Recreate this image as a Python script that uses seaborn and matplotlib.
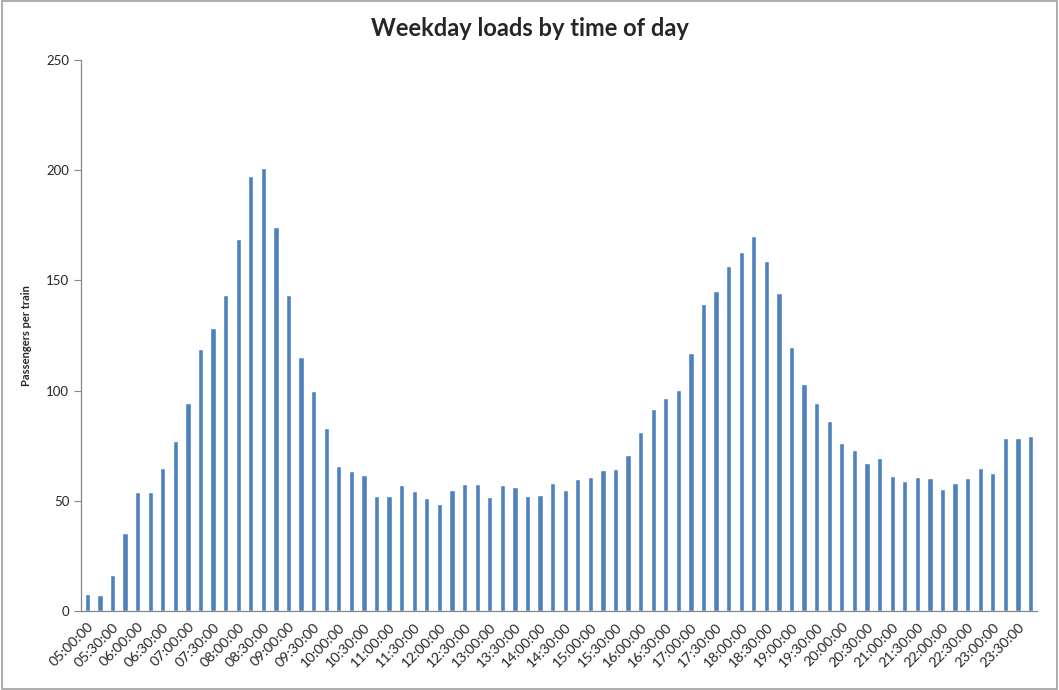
import pandas as pd
import matplotlib.pyplot as plt
import seaborn as sns
from matplotlib.patches import Rectangle

# 15-minute departure slots, 05:00 to 23:45
slots = pd.date_range("05:00", "23:45", freq="15min").strftime("%H:%M:%S").tolist()

# Passengers per train, one per slot
loads = [
    7.5, 7.1, 16.2, 35.5, 54.0, 54.0, 64.7, 77.3, 94.2, 118.7,
    128.2, 143.5, 168.8, 197.2, 201.2, 174.4, 143.5, 115.1, 99.7, 82.9,
    65.8, 63.4, 61.9, 52.0, 52.3, 57.0, 54.3, 51.1, 48.4, 55.1,
    57.5, 57.5, 51.6, 57.0, 56.3, 52.0, 52.6, 57.9, 55.1, 59.9,
    60.6, 64.1, 64.6, 70.6, 81.2, 91.5, 96.6, 100.3, 117.2, 139.1,
    145.0, 156.5, 162.9, 170.3, 159.0, 144.3, 119.8, 103.1, 94.5, 86.4,
    76.4, 73.2, 67.3, 69.3, 61.4, 59.0, 60.6, 60.2, 55.2, 57.9,
    60.2, 65.0, 62.8, 78.3, 78.3, 79.2,
]

df = pd.DataFrame({"slot": slots, "load": loads})

sns.set_style("white")
plt.rcParams["font.family"] = ["Lato", "DejaVu Sans"]

fig = plt.figure(figsize=(10.59, 6.9), dpi=100, facecolor="white")
ax = fig.add_axes([0.0765, 0.1145, 0.9025, 0.7985])

sns.barplot(data=df, x="slot", y="load", color="#4F81BD", width=0.42,
            saturation=1, ax=ax)

ax.set_xlim(-0.5, len(slots) - 0.5)
ax.set_ylim(0, 250)
ax.set_yticks(range(0, 251, 50))

# labels every 30 minutes, tick marks between every category
ax.set_xticks(range(0, len(slots), 2))
ax.set_xticklabels(slots[::2], rotation=45, ha="right", rotation_mode="anchor",
                   fontsize=10.3)
ax.set_xticks([i - 0.5 for i in range(len(slots) + 1)], minor=True)
ax.tick_params(axis="x", which="major", length=0, pad=7)
ax.tick_params(axis="x", which="minor", length=4, color="#868686", width=0.8,
               direction="out")
ax.tick_params(axis="y", length=5, color="#868686", width=0.8, direction="out",
               labelsize=9.5, left=True)

for side in ["top", "right"]:
    ax.spines[side].set_visible(False)
for side in ["left", "bottom"]:
    ax.spines[side].set_color("#868686")
    ax.spines[side].set_linewidth(0.9)

ax.set_xlabel("")
ax.set_ylabel("Passengers per train", fontsize=8, fontweight="bold", labelpad=10)
fig.suptitle("Weekday loads by time of day", fontsize=17, fontweight="bold",
             y=0.975)

# thin frame round the whole chart
fig.patches.append(Rectangle((0.002, 0.002), 0.996, 0.996, transform=fig.transFigure,
                             fill=False, edgecolor="#a0a0a0", linewidth=1.2))

plt.savefig("out.png", dpi=100)
